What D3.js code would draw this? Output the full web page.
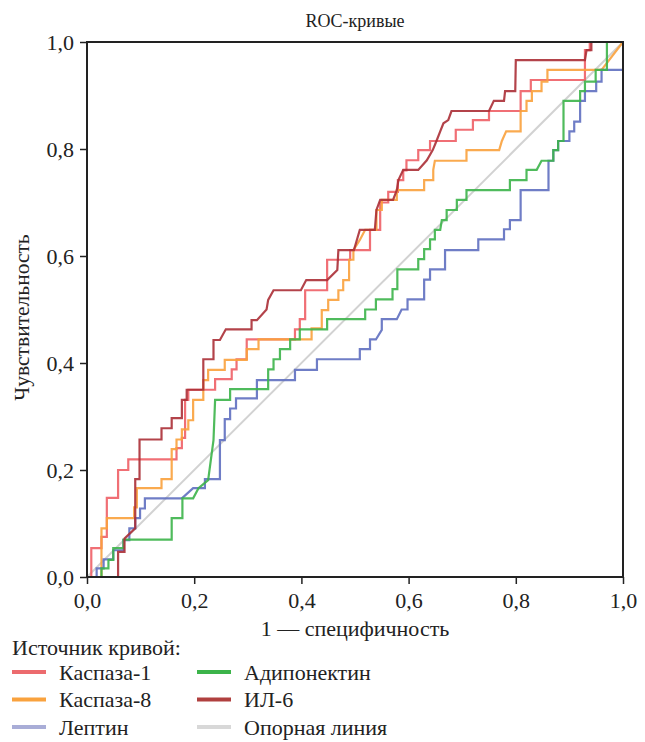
<!DOCTYPE html>
<html>
<head>
<meta charset="utf-8">
<script src="https://cdn.jsdelivr.net/npm/d3@7"></script>
<style>
  body { margin: 0; background: #fff; }
  svg { display: block; }
  text { font-family: "Liberation Serif", "Times New Roman", Times, serif; fill: #222; }
</style>
</head>
<body>
<div id="chart"></div>
<script>
// ROC curve vertices [1 - specificity, sensitivity]
const kaspaza1 = [[0,0],[0.008,0],[0.008,0.054],[0.027,0.054],[0.027,0.075],[0.037,0.075],[0.037,0.148],[0.058,0.148],[0.058,0.2],[0.077,0.2],[0.077,0.22],[0.167,0.22],[0.167,0.241],[0.177,0.241],[0.177,0.26],[0.183,0.26],[0.183,0.331],[0.189,0.331],[0.189,0.35],[0.239,0.35],[0.239,0.37],[0.27,0.37],[0.27,0.388],[0.279,0.388],[0.279,0.407],[0.298,0.407],[0.298,0.444],[0.388,0.444],[0.388,0.463],[0.397,0.463],[0.397,0.482],[0.407,0.482],[0.407,0.536],[0.448,0.536],[0.448,0.593],[0.491,0.593],[0.491,0.611],[0.528,0.611],[0.528,0.649],[0.547,0.649],[0.547,0.7],[0.562,0.7],[0.562,0.72],[0.58,0.72],[0.58,0.742],[0.59,0.742],[0.59,0.76],[0.596,0.76],[0.596,0.779],[0.618,0.779],[0.618,0.798],[0.64,0.798],[0.64,0.815],[0.688,0.815],[0.688,0.836],[0.72,0.836],[0.72,0.854],[0.75,0.854],[0.75,0.871],[0.809,0.871],[0.809,0.908],[0.828,0.908],[0.828,0.929],[0.929,0.929],[0.929,0.985],[0.938,0.985],[0.938,1],[1,1]];

const kaspaza8 = [[0,0],[0.027,0],[0.027,0.091],[0.037,0.091],[0.037,0.11],[0.088,0.11],[0.088,0.13],[0.093,0.13],[0.093,0.166],[0.139,0.166],[0.139,0.183],[0.158,0.183],[0.158,0.239],[0.167,0.239],[0.167,0.257],[0.177,0.257],[0.177,0.276],[0.189,0.276],[0.189,0.293],[0.198,0.293],[0.198,0.331],[0.217,0.331],[0.217,0.368],[0.226,0.368],[0.226,0.387],[0.257,0.387],[0.257,0.406],[0.298,0.406],[0.298,0.426],[0.32,0.426],[0.32,0.444],[0.419,0.444],[0.419,0.465],[0.438,0.465],[0.438,0.499],[0.45,0.499],[0.45,0.518],[0.469,0.518],[0.469,0.536],[0.478,0.536],[0.478,0.555],[0.489,0.555],[0.489,0.593],[0.497,0.593],[0.497,0.611],[0.509,0.63],[0.519,0.649],[0.54,0.649],[0.54,0.686],[0.55,0.686],[0.55,0.705],[0.578,0.705],[0.578,0.723],[0.629,0.723],[0.629,0.742],[0.646,0.742],[0.646,0.761],[0.649,0.778],[0.708,0.778],[0.708,0.798],[0.769,0.798],[0.774,0.815],[0.782,0.833],[0.809,0.833],[0.809,0.871],[0.82,0.871],[0.82,0.89],[0.83,0.89],[0.83,0.908],[0.848,0.908],[0.848,0.926],[0.859,0.926],[0.859,0.948],[0.96,0.948],[1,1]];

const leptin = [[0,0],[0.018,0],[0.018,0.016],[0.031,0.016],[0.031,0.033],[0.049,0.033],[0.049,0.05],[0.068,0.05],[0.068,0.069],[0.079,0.069],[0.079,0.091],[0.09,0.091],[0.09,0.11],[0.099,0.11],[0.099,0.128],[0.108,0.128],[0.108,0.147],[0.177,0.147],[0.198,0.166],[0.22,0.166],[0.22,0.183],[0.248,0.183],[0.248,0.256],[0.257,0.256],[0.257,0.295],[0.267,0.295],[0.267,0.315],[0.278,0.315],[0.278,0.334],[0.317,0.334],[0.317,0.368],[0.388,0.368],[0.388,0.387],[0.429,0.387],[0.429,0.407],[0.509,0.407],[0.509,0.426],[0.528,0.426],[0.528,0.444],[0.539,0.444],[0.55,0.462],[0.55,0.482],[0.578,0.482],[0.587,0.5],[0.598,0.5],[0.598,0.519],[0.629,0.519],[0.629,0.556],[0.64,0.556],[0.64,0.575],[0.668,0.575],[0.668,0.611],[0.73,0.611],[0.73,0.631],[0.778,0.631],[0.778,0.65],[0.789,0.65],[0.789,0.667],[0.809,0.667],[0.809,0.723],[0.861,0.723],[0.861,0.778],[0.87,0.778],[0.87,0.798],[0.879,0.798],[0.879,0.815],[0.9,0.815],[0.9,0.833],[0.909,0.833],[0.909,0.851],[0.92,0.851],[0.92,0.89],[0.929,0.89],[0.929,0.908],[0.95,0.908],[0.95,0.926],[0.96,0.926],[0.96,0.948],[1,0.948]];

const adiponektin = [[0,0],[0.027,0],[0.027,0.016],[0.04,0.016],[0.04,0.032],[0.049,0.032],[0.049,0.054],[0.068,0.054],[0.068,0.07],[0.158,0.07],[0.158,0.11],[0.178,0.11],[0.178,0.147],[0.198,0.147],[0.208,0.166],[0.226,0.181],[0.236,0.256],[0.239,0.331],[0.267,0.331],[0.267,0.351],[0.338,0.351],[0.338,0.388],[0.348,0.388],[0.348,0.407],[0.36,0.407],[0.36,0.426],[0.379,0.426],[0.379,0.444],[0.397,0.444],[0.397,0.463],[0.448,0.463],[0.448,0.482],[0.519,0.482],[0.519,0.5],[0.539,0.5],[0.539,0.519],[0.57,0.519],[0.57,0.538],[0.579,0.538],[0.579,0.575],[0.618,0.575],[0.618,0.594],[0.629,0.594],[0.629,0.613],[0.64,0.613],[0.64,0.631],[0.649,0.631],[0.649,0.649],[0.659,0.649],[0.662,0.667],[0.671,0.667],[0.671,0.686],[0.69,0.686],[0.69,0.705],[0.708,0.705],[0.708,0.723],[0.789,0.723],[0.789,0.742],[0.82,0.742],[0.82,0.761],[0.839,0.761],[0.848,0.778],[0.87,0.778],[0.87,0.798],[0.879,0.798],[0.879,0.815],[0.889,0.815],[0.889,0.89],[0.92,0.89],[0.92,0.908],[0.929,0.908],[0.929,0.926],[0.949,0.926],[0.949,0.948],[0.97,0.948],[0.97,1],[1,1]];

const il6 = [[0,0],[0.058,0],[0.058,0.047],[0.07,0.047],[0.07,0.072],[0.09,0.091],[0.09,0.183],[0.098,0.183],[0.098,0.257],[0.139,0.257],[0.139,0.278],[0.158,0.278],[0.158,0.297],[0.177,0.297],[0.177,0.331],[0.186,0.331],[0.186,0.35],[0.217,0.35],[0.217,0.407],[0.236,0.407],[0.236,0.443],[0.248,0.443],[0.259,0.463],[0.307,0.463],[0.307,0.48],[0.317,0.48],[0.335,0.5],[0.338,0.518],[0.348,0.536],[0.399,0.536],[0.409,0.555],[0.448,0.555],[0.467,0.574],[0.469,0.611],[0.498,0.611],[0.509,0.649],[0.537,0.649],[0.54,0.686],[0.547,0.705],[0.571,0.705],[0.578,0.723],[0.581,0.742],[0.59,0.761],[0.618,0.761],[0.634,0.779],[0.645,0.798],[0.652,0.815],[0.659,0.833],[0.665,0.848],[0.674,0.854],[0.68,0.871],[0.75,0.871],[0.759,0.89],[0.778,0.89],[0.78,0.908],[0.799,0.908],[0.8,0.966],[0.929,0.966],[0.932,0.985],[0.941,0.985],[0.941,1],[1,1]];

const reference = [[0,0],[1,1]];

const seriesNames = ["Каспаза-1", "Каспаза-8", "Лептин", "Адипонектин", "ИЛ-6", "Опорная линия"];
const seriesData = [kaspaza1, kaspaza8, leptin, adiponektin, il6, reference];
const lineColors = ["#ee5f66", "#f9a13c", "#5f6fc0", "#3cb44a", "#ab2f36", "#d2d2d2"];
const swatchColors = ["#ec6b6e", "#f9a23e", "#a9add7", "#3cb44a", "#b0403f", "#d8d8d8"];
const ticks = [0, 0.2, 0.4, 0.6, 0.8, 1.0];

const margin = {top: 42, right: 22, bottom: 165, left: 87},
    width = 645 - margin.left - margin.right,
    height = 742 - margin.top - margin.bottom;

var x = d3.scaleLinear().domain([0, 1]).range([0, width]);
var y = d3.scaleLinear().domain([0, 1]).range([height, 0]);
var fmt = d => d3.format(".1f")(d).replace(".", ",");

var line = d3.line()
    .x(d => x(d[0]))
    .y(d => y(d[1]));

var svg = d3.select("#chart").append("svg")
    .attr("width", 645)
    .attr("height", 742);

var g = svg.append("g")
    .attr("transform", "translate(" + margin.left + "," + margin.top + ")");

// title
svg.append("text")
    .attr("x", margin.left + width / 2)
    .attr("y", 27)
    .attr("text-anchor", "middle")
    .style("font-size", "18px")
    .text("ROC-кривые");

// axes
var xAxis = g.append("g")
    .attr("transform", "translate(0," + height + ")")
    .call(d3.axisBottom(x).tickValues(ticks).tickFormat(fmt).tickSize(7).tickPadding(8));
var yAxis = g.append("g")
    .call(d3.axisLeft(y).tickValues(ticks).tickFormat(fmt).tickSize(7).tickPadding(6));

[xAxis, yAxis].forEach(a => {
  a.attr("font-family", null);
  a.select(".domain").remove();
  a.selectAll(".tick line").attr("stroke", "#222").attr("stroke-width", 1.5);
  a.selectAll(".tick text")
      .style("font-size", "22px")
      .attr("fill", "#222");
});

// curves, reference line first
var order = [5, 0, 1, 2, 3, 4];
g.selectAll(".curve")
    .data(order)
    .join("path")
    .attr("class", "curve")
    .attr("fill", "none")
    .attr("stroke", i => lineColors[i])
    .attr("stroke-width", i => i === 5 ? 2 : 2.2)
    .attr("stroke-opacity", i => i === 5 ? 1 : 0.9)
    .attr("d", i => line(seriesData[i]));

// frame
g.append("rect")
    .attr("width", width)
    .attr("height", height)
    .attr("fill", "none")
    .attr("stroke", "#222")
    .attr("stroke-width", 2);

// axis titles
svg.append("text")
    .attr("x", margin.left + width / 2)
    .attr("y", 636)
    .attr("text-anchor", "middle")
    .style("font-size", "22px")
    .text("1 — специфичность");

svg.append("text")
    .attr("transform", "translate(29," + (margin.top + height / 2 + 8) + ") rotate(-90)")
    .attr("text-anchor", "middle")
    .style("font-size", "21.5px")
    .text("Чувствительность");

// legend
var legend = svg.append("g");
legend.append("text")
    .attr("x", 12)
    .attr("y", 655)
    .style("font-size", "22px")
    .text("Источник кривой:");

var items = legend.selectAll(".item")
    .data(seriesNames)
    .join("g")
    .attr("class", "item")
    .attr("transform", (d, i) => "translate(" + (i < 3 ? 12 : 197) + "," + (672 + (i % 3) * 27.5) + ")");

items.append("line")
    .attr("x1", 0).attr("x2", 34)
    .attr("stroke", (d, i) => swatchColors[i])
    .attr("stroke-width", 4);

items.append("text")
    .attr("x", 47)
    .attr("y", 7.5)
    .style("font-size", "22px")
    .text(d => d);
</script>
</body>
</html>
